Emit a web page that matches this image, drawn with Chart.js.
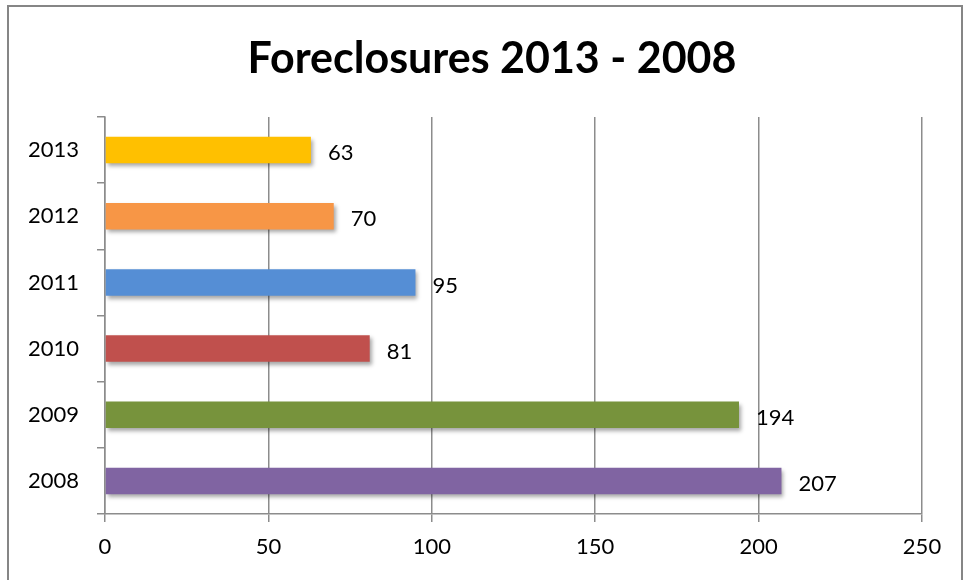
<!DOCTYPE html>
<html>
<head>
<meta charset="utf-8">
<script src="https://cdn.jsdelivr.net/npm/chart.js@4/dist/chart.umd.min.js"></script>
<style>
  html, body { margin: 0; padding: 0; background: #fff; }
  #wrap { width: 963px; height: 580px; }
</style>
</head>
<body>
<div id="wrap"><canvas id="chart" width="963" height="580"></canvas></div>
<script>
// datos del gráfico
const years = ['2013', '2012', '2011', '2010', '2009', '2008'];
const foreclosures = [63, 70, 95, 81, 194, 207];
const barColors = ['#FFC000', '#F79646', '#558ED5', '#C0504D', '#77933C', '#8064A2'];
const xTicks = [0, 50, 100, 150, 200, 250];

const gridGray = '#8c8c8c';
const fontFam = 'Lato, "Open Sans", sans-serif';

// marco exterior + sombra de las barras + etiquetas de valor
const extras = {
  id: 'extras',
  afterLayout(chart) {
    // mover el centro del título un poco a la derecha, como en el original
    if (chart.titleBlock) chart.titleBlock.left = 62;
  },
  beforeDraw(chart) {
    const ctx = chart.ctx;
    ctx.save();
    ctx.strokeStyle = '#868686';
    ctx.lineWidth = 2;
    ctx.strokeRect(8, 6, 954, 600);
    ctx.restore();
  },
  beforeDatasetsDraw(chart) {
    const ctx = chart.ctx;
    ctx.save();
    ctx.shadowColor = 'rgba(0,0,0,0.35)';
    ctx.shadowBlur = 4;
    ctx.shadowOffsetX = 2;
    ctx.shadowOffsetY = 3;
  },
  afterDatasetsDraw(chart) {
    const ctx = chart.ctx;
    ctx.restore();
    ctx.save();
    ctx.fillStyle = '#000';
    ctx.font = '22px ' + fontFam;
    ctx.textAlign = 'left';
    ctx.textBaseline = 'middle';
    const meta = chart.getDatasetMeta(0);
    meta.data.forEach((bar, i) => {
      ctx.fillText(String(foreclosures[i]), bar.x + 17, bar.y + 3);
    });
    ctx.restore();
  }
};

new Chart(document.getElementById('chart'), {
  type: 'bar',
  data: {
    labels: years,
    datasets: [{
      data: foreclosures,
      backgroundColor: barColors,
      borderWidth: 0,
      categoryPercentage: 1,
      barPercentage: 0.4
    }]
  },
  options: {
    indexAxis: 'y',
    responsive: false,
    animation: false,
    layout: { padding: { left: 0, right: 41, top: 0, bottom: 0 } },
    plugins: {
      legend: { display: false },
      tooltip: { enabled: false },
      title: {
        display: true,
        text: 'Foreclosures 2013 - 2008',
        color: '#000',
        font: { family: fontFam, size: 43, weight: 'bold' },
        padding: { top: 33, bottom: 32.4 }
      }
    },
    scales: {
      x: {
        min: 0,
        max: 250,
        afterBuildTicks(scale) {
          scale.ticks = xTicks.map(v => ({ value: v }));
        },
        afterFit(scale) { scale.height = 66; },
        grid: {
          color: gridGray,
          lineWidth: 1.5,
          tickLength: 8,
          drawTicks: true
        },
        border: { color: gridGray, width: 1.5 },
        ticks: {
          color: '#000',
          padding: 12,
          font: { family: fontFam, size: 22 }
        }
      },
      y: {
        afterFit(scale) { scale.width = 105; },
        grid: {
          offset: true,
          drawOnChartArea: false,
          color: gridGray,
          lineWidth: 1.5,
          tickLength: 8
        },
        border: { color: gridGray, width: 1.5 },
        ticks: {
          color: '#000',
          padding: 18,
          font: { family: fontFam, size: 22 }
        }
      }
    }
  },
  plugins: [extras]
});
</script>
</body>
</html>
